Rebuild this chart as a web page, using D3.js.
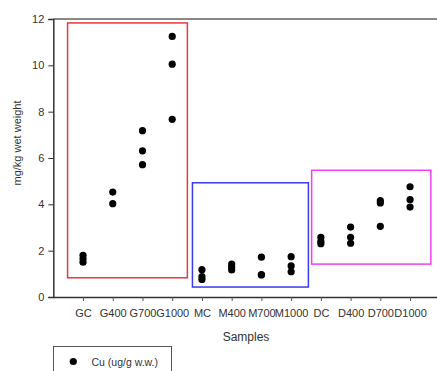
<!DOCTYPE html>
<html>
<head>
<meta charset="utf-8">
<script src="https://cdn.jsdelivr.net/npm/d3@7/dist/d3.min.js"></script>
<style>
  html, body { margin: 0; padding: 0; background: #fff; }
  svg { display: block; font-family: "Liberation Sans", Arial, sans-serif; }
</style>
</head>
<body>
<svg id="chart" width="437" height="371"></svg>
<script>
// ---- data ----
const categories = ["GC","G400","G700","G1000","MC","M400","M700","M1000","DC","D400","D700","D1000"];
const cuValues = [
  [1.80, 1.65, 1.50],
  [4.53, 4.03],
  [7.18, 6.31, 5.71],
  [11.25, 10.05, 7.67],
  [1.18, 0.88, 0.76],
  [1.42, 1.30, 1.17],
  [1.72, 0.97, 0.95],
  [1.74, 1.34, 1.09],
  [2.58, 2.40, 2.30],
  [3.02, 2.58, 2.32],
  [4.16, 4.06, 3.05],
  [4.76, 4.20, 3.88]
];
const yTicks = [0, 2, 4, 6, 8, 10, 12];
// group boxes: [x0, x1] in category-index units (1-based), [y0, y1] in data units
const groupBoxes = [
  { x0: 0.48, x1: 4.51, y0: 0.83, y1: 11.83, color: "#e8383c" },
  { x0: 4.68, x1: 8.58, y0: 0.43, y1: 4.93, color: "#3a3af0" },
  { x0: 8.69, x1: 12.70, y0: 1.42, y1: 5.47, color: "#f040f0" }
];
const seriesName = "Cu (ug/g w.w.)";

// ---- layout ----
const svg = d3.select("#chart");
const mLeft = 53.3, mTop = 19, mBottom = 297;
const x = d3.scaleLinear().domain([0, 13]).range([mLeft, mLeft + 13 * 29.73]);
const y = d3.scaleLinear().domain([0, 12]).range([mBottom, mTop]);

// top frame line
svg.append("line")
  .attr("x1", mLeft).attr("x2", 437).attr("y1", mTop).attr("y2", mTop)
  .attr("stroke", "#888").attr("stroke-width", 2);

// group boxes
svg.append("g").selectAll("rect").data(groupBoxes).join("rect")
  .attr("x", d => x(d.x0)).attr("y", d => y(d.y1))
  .attr("width", d => x(d.x1) - x(d.x0))
  .attr("height", d => y(d.y0) - y(d.y1))
  .attr("fill", "none").attr("stroke", d => d.color).attr("stroke-width", 1.5);

// y axis
const yAxis = d3.axisLeft(y).tickValues(yTicks).tickSize(5).tickPadding(4).tickFormat(d3.format("d"));
const gy = svg.append("g").attr("transform", `translate(${mLeft},0)`).call(yAxis);
gy.select(".domain").attr("stroke", "#333").attr("stroke-width", 1.5);
gy.selectAll(".tick line").attr("stroke", "#333");
gy.selectAll(".tick text").attr("font-size", 11).attr("fill", "#333")
  .attr("font-family", "'Liberation Sans', Arial, sans-serif");

// x axis
const xAxis = d3.axisBottom(x).tickValues(d3.range(1, categories.length + 1))
  .tickFormat(i => categories[i - 1]).tickSize(4).tickPadding(8).tickSizeOuter(0);
const gx = svg.append("g").attr("transform", `translate(0,${mBottom})`).call(xAxis);
gx.select(".domain").attr("stroke", "#333").attr("stroke-width", 1.5);
gx.selectAll(".tick line").attr("stroke", "#555");
gx.selectAll(".tick text").attr("font-size", 11).attr("fill", "#333")
  .attr("font-family", "'Liberation Sans', Arial, sans-serif");

// points
const pts = [];
cuValues.forEach((vals, i) => vals.forEach(v => pts.push({ i: i + 1, v })));
svg.append("g").selectAll("circle").data(pts).join("circle")
  .attr("cx", d => x(d.i)).attr("cy", d => y(d.v)).attr("r", 3.6).attr("fill", "#000");

// axis titles
svg.append("text").attr("x", 246).attr("y", 341).attr("text-anchor", "middle")
  .attr("font-size", 12).attr("fill", "#333").text("Samples");
svg.append("text").attr("transform", "translate(21,143) rotate(-90)")
  .attr("text-anchor", "middle").attr("font-size", 11).attr("fill", "#333").text("mg/kg wet weight");

// legend
const lg = svg.append("g");
lg.append("rect").attr("x", 53.5).attr("y", 346.5).attr("width", 118).attr("height", 40)
  .attr("fill", "#fff").attr("stroke", "#555").attr("stroke-width", 1);
lg.append("circle").attr("cx", 73.3).attr("cy", 361.5).attr("r", 3.6).attr("fill", "#000");
lg.append("text").attr("x", 91.5).attr("y", 365.5).attr("font-size", 10.5).attr("fill", "#333").text(seriesName);
</script>
</body>
</html>
